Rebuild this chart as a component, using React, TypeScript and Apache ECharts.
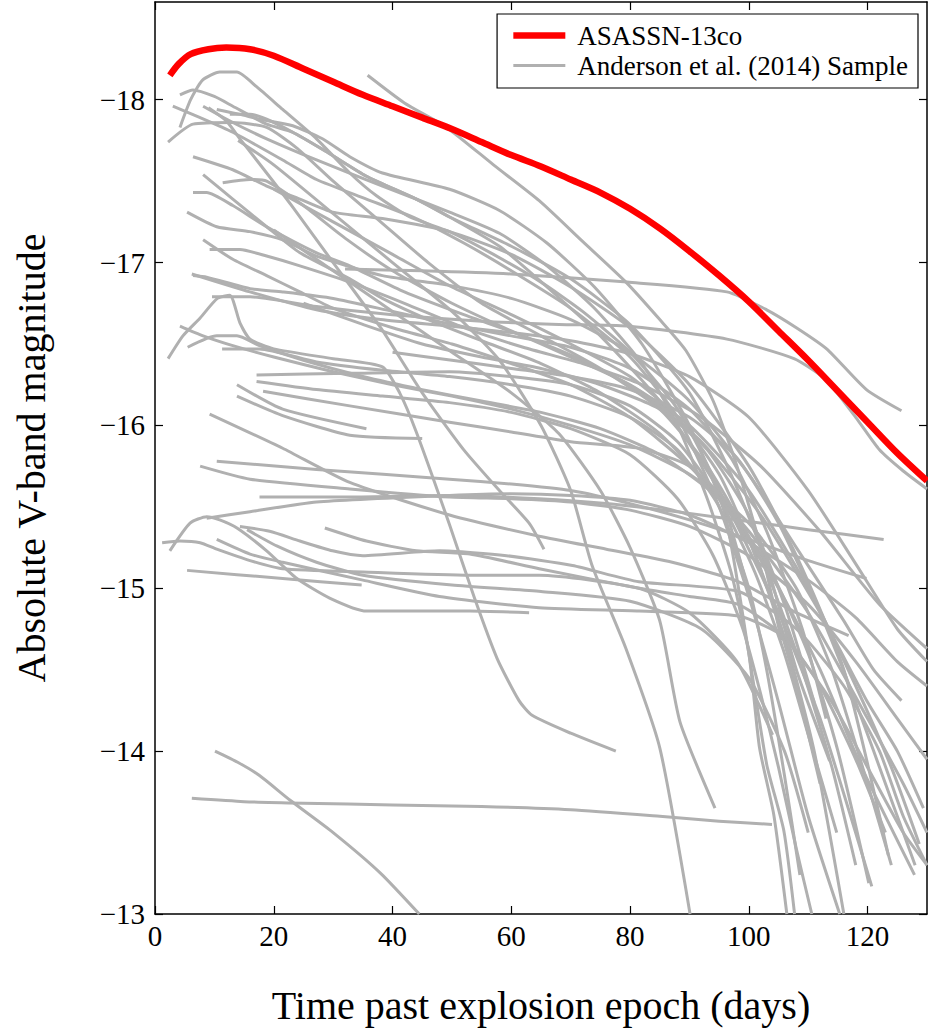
import React, { useEffect, useRef } from 'react';
import * as echarts from 'echarts';

type Pt = [number, number];

const X_TICKS = [0, 20, 40, 60, 80, 100, 120];
const Y_TICKS = [-18, -17, -16, -15, -14, -13];
const RED_NAME = 'ASASSN-13co';
const SAMPLE_NAME = 'Anderson et al. (2014) Sample';

// ASASSN-13co light curve (days, absolute V mag)
const ASASSN_13CO: Pt[] = [[2.5,-18.15],[4,-18.22],[6,-18.28],[9,-18.31],[12,-18.32],[16,-18.31],[20,-18.27],[25,-18.19],[30,-18.11],[35,-18.03],[40,-17.96],[45,-17.89],[50,-17.82],[55,-17.74],[60,-17.66],[65,-17.59],[70,-17.51],[75,-17.43],[80,-17.33],[85,-17.21],[90,-17.07],[95,-16.92],[100,-16.76],[105,-16.58],[110,-16.4],[115,-16.21],[120,-16.02],[125,-15.83],[130,-15.66]];

// Anderson et al. (2014) sample curves
const SN01: Pt[] = [[32,-16.96],[45,-16.95],[60,-16.93],[79.5,-16.88],[96.3,-16.82],[103,-16.71],[108,-16.6],[113.1,-16.47],[119.8,-16.22],[125.7,-16.09]];
const SN02: Pt[] = [[35.8,-18.15],[42,-17.98],[49.1,-17.83],[57,-17.6],[64.7,-17.38],[72,-17.13],[79.3,-16.88],[85,-16.65],[89.4,-16.46],[94,-16.15],[98,-15.75],[102,-15.25],[105.5,-14.68]];
const SN03: Pt[] = [[4.2,-17.83],[6,-18.0],[8,-18.12],[10.9,-18.17],[13.8,-18.17],[17.1,-18.08],[21.5,-17.94],[27.2,-17.76],[32.8,-17.55],[37.3,-17.41],[42.9,-17.28],[49.6,-17.19],[57,-17.05],[65,-16.88],[72,-16.7],[80,-16.45],[88,-16.1],[95,-15.6],[99.3,-15.07]];
const SN04: Pt[] = [[4.2,-18.03],[6.4,-18.06],[10,-18.02],[13.1,-17.96],[18.8,-17.85],[23.2,-17.8],[28.9,-17.68],[35.6,-17.53],[44,-17.39],[49.6,-17.28],[60,-17.1],[70,-16.9],[80,-16.62],[90,-16.2],[97,-15.7],[103,-15.15],[108,-14.5],[113.6,-13.94]];
const SN05: Pt[] = [[3,-17.96],[7.6,-17.89],[13.1,-17.8],[21.5,-17.63],[27.2,-17.51],[35.6,-17.39],[44,-17.27],[52,-17.12],[60,-16.95],[70,-16.72],[80,-16.42],[88,-16.05],[95,-15.5],[100,-14.95],[105,-14.3],[110,-13.6],[115.3,-13.0]];
const SN06: Pt[] = [[2.2,-17.74],[6.4,-17.85],[13.1,-17.86],[18.8,-17.83],[24,-17.7],[30,-17.5],[38,-17.25],[46,-17.0],[55,-16.75],[65,-16.55],[75,-16.35],[85,-16.1],[93,-15.75],[100,-15.3],[106,-14.7],[111,-14.0],[116,-13.0]];
const SN07: Pt[] = [[8.1,-17.96],[13.1,-17.86],[18.8,-17.76],[27.2,-17.63],[38.3,-17.47],[49.6,-17.31],[58,-17.18],[66,-16.98],[74,-16.72],[82,-16.38],[88,-16.0],[93,-15.55],[97,-15.1],[100,-14.6],[101.8,-14.02],[104.2,-13.61],[106.4,-13.0]];
const SN08: Pt[] = [[10.4,-17.94],[14.3,-17.91],[17.6,-17.88],[23.2,-17.84],[28.2,-17.76],[32.8,-17.65],[38.3,-17.55],[49.6,-17.45],[58,-17.32],[66,-17.12],[74,-16.85],[82,-16.5],[90,-16.0],[96,-15.45],[100,-14.6],[103,-13.92],[105.9,-13.51],[107.7,-13.0]];
const SN09: Pt[] = [[12.6,-17.91],[16,-17.91],[18.8,-17.88],[23.2,-17.8],[28.9,-17.68],[35.6,-17.53],[44,-17.39],[49.6,-17.28],[58,-17.1],[66,-16.85],[75,-16.55],[85,-16.15],[95,-15.6],[105,-14.85],[112,-14.2],[120.7,-13.17]];
const SN10: Pt[] = [[6.4,-17.65],[13.1,-17.57],[18.8,-17.47],[24.4,-17.39],[29.9,-17.31],[38.3,-17.27],[49.6,-17.19],[60,-17.05],[70,-16.85],[80,-16.6],[90,-16.25],[100,-15.75],[108,-15.2],[116,-14.5],[123.5,-13.36]];
const SN11: Pt[] = [[8.1,-17.54],[13.1,-17.39],[18.8,-17.22],[24.4,-17.06],[32.8,-16.9],[38.3,-16.78],[46,-16.65],[55,-16.52],[65,-16.38],[75,-16.2],[85,-15.95],[95,-15.55],[105,-15.0],[112,-14.5],[119,-13.9],[127.9,-13.24]];
const SN12: Pt[] = [[11.4,-17.49],[16,-17.51],[18.8,-17.5],[25,-17.35],[32,-17.15],[40,-16.95],[50,-16.75],[60,-16.58],[70,-16.42],[80,-16.25],[90,-16.0],[100,-15.6],[110,-15.0],[118,-14.4],[124,-13.9],[128.7,-13.43]];
const SN13: Pt[] = [[6.4,-17.43],[8.7,-17.43],[13.1,-17.35],[18.8,-17.22],[27.2,-17.06],[32.8,-16.98],[42,-16.82],[52,-16.68],[62,-16.55],[72,-16.4],[82,-16.2],[92,-15.9],[102,-15.45],[112,-14.85],[120,-14.3],[125,-14.0],[129.4,-13.65]];
const SN14: Pt[] = [[5.4,-17.31],[10.4,-17.22],[16,-17.19],[21.5,-17.14],[27.2,-17.04],[38.3,-16.92],[49.6,-16.86],[60,-16.78],[70,-16.65],[80,-16.45],[90,-16.15],[100,-15.7],[108,-15.25],[116,-14.8],[121,-14.5],[125.7,-14.31]];
const SN15: Pt[] = [[8.1,-17.14],[13.1,-17.02],[18.8,-16.92],[24.4,-16.82],[30,-16.72],[40,-16.6],[50,-16.5],[60,-16.38],[70,-16.25],[80,-16.05],[90,-15.75],[100,-15.35],[110,-14.85],[120,-14.2],[126,-13.8],[130,-13.5]];
const SN16: Pt[] = [[9.2,-17.08],[14.3,-17.08],[18.8,-17.04],[24.4,-16.98],[32.8,-16.88],[42,-16.75],[52,-16.6],[62,-16.48],[72,-16.38],[82,-16.25],[92,-16.05],[102,-15.75],[112,-15.35],[122,-14.9],[130,-14.63]];
const SN17: Pt[] = [[6.2,-16.93],[16,-16.82],[27.2,-16.71],[38,-16.65],[49.6,-16.61],[60,-16.57],[70,-16.52],[80,-16.44],[90,-16.3],[100,-16.05],[110,-15.6],[118,-15.15],[125,-14.75],[130,-14.55]];
const SN18: Pt[] = [[6.4,-16.92],[8.7,-16.91],[16,-16.84],[21.5,-16.82],[30,-16.78],[40,-16.7],[50,-16.62],[60,-16.55],[70,-16.48],[80,-16.35],[90,-16.1],[97,-15.8],[103,-15.35],[109,-14.75],[113,-14.2]];
const SN19: Pt[] = [[9.6,-16.79],[16,-16.79],[27.2,-16.73],[40,-16.68],[55,-16.64],[68,-16.62],[79.5,-16.61],[96.3,-16.53],[107.6,-16.41],[113,-16.28],[118,-16.05],[122,-15.85],[126,-15.72],[130,-15.61]];
const SN20: Pt[] = [[2.2,-16.41],[4.7,-16.55],[7.6,-16.66],[10.5,-16.78],[12.6,-16.8],[14.3,-16.63],[16,-16.53],[20,-16.47],[30,-16.41],[38.3,-16.36],[41.2,-16.2],[44,-15.96],[49.6,-15.39],[53.8,-14.94],[57.6,-14.57],[61.3,-14.31],[63.5,-14.22],[70,-14.11],[77.6,-14.0]];
const SN21: Pt[] = [[4.2,-16.61],[8.1,-16.55],[13.1,-16.49],[20,-16.42],[30,-16.33],[40,-16.25],[50,-16.18],[60,-16.1],[70,-16.0],[80,-15.88],[90,-15.7],[100,-15.4],[108,-15.0],[114,-14.5],[120,-13.8],[124,-13.3]];
const SN22: Pt[] = [[5.5,-16.48],[10.4,-16.55],[13.8,-16.55],[17.6,-16.49],[25,-16.4],[35,-16.3],[45,-16.22],[55,-16.15],[65,-16.08],[75,-15.98],[85,-15.82],[95,-15.55],[103,-15.15],[110,-14.6],[115,-14.0],[120.2,-13.19]];
const SN23: Pt[] = [[11.3,-16.47],[17.6,-16.47],[27.2,-16.39],[38,-16.34],[49.6,-16.3],[60,-16.25],[70,-16.18],[80,-16.05],[88,-15.85],[95,-15.5],[100,-15.0],[103,-14.5],[106,-13.85],[108.6,-13.24]];
const SN24: Pt[] = [[17.1,-16.31],[32.8,-16.32],[49.6,-16.33],[60,-16.3],[70,-16.25],[80,-16.12],[88,-15.9],[95,-15.55],[101,-15.1],[106,-14.6],[110,-14.1],[114.8,-13.5]];
const SN25: Pt[] = [[17.1,-16.27],[27.2,-16.22],[38.3,-16.18],[49.6,-16.14],[60,-16.08],[70,-15.98],[80,-15.82],[88,-15.55],[94,-15.2],[99,-14.75],[102,-14.35],[105,-13.9],[108,-13.4],[110.6,-13.0]];
const SN26: Pt[] = [[13.8,-16.25],[21.5,-16.1],[35.6,-15.98]];
const SN27: Pt[] = [[13.8,-16.18],[21.5,-16.06],[32.8,-15.94],[45,-15.92]];
const SN28: Pt[] = [[18.2,-16.21],[32.8,-16.12],[49.6,-16.02],[60,-15.96],[70,-15.9],[81.5,-15.86],[90,-15.75],[97,-15.5],[103,-15.1],[109,-14.5],[114,-13.9],[118,-13.3]];
const SN29: Pt[] = [[9.2,-16.07],[21.5,-15.86],[32.8,-15.65],[49.6,-15.45],[64.7,-15.32],[76,-15.24],[87.1,-15.16],[98.3,-15.04],[108,-14.85],[116.8,-14.71]];
const SN30: Pt[] = [[10.4,-15.78],[27.2,-15.73],[49.6,-15.67],[60,-15.64],[70,-15.6],[80,-15.52],[90,-15.42],[100,-15.3],[110,-15.17],[119.8,-15.06]];
const SN31: Pt[] = [[7.6,-15.75],[16,-15.67],[32.8,-15.61],[49.6,-15.56],[60,-15.55],[70,-15.53],[80,-15.48],[90,-15.38],[100,-15.2],[110,-14.9],[118,-14.55],[125,-14.2],[130,-13.95]];
const SN32: Pt[] = [[17.6,-15.56],[32.8,-15.56],[49.6,-15.57],[64.7,-15.55],[76,-15.52],[90,-15.46],[100,-15.41],[110,-15.36],[122.7,-15.3]];
const SN33: Pt[] = [[8.7,-15.43],[16,-15.47],[27.2,-15.53],[49.6,-15.57],[60,-15.58],[70,-15.57],[80,-15.54],[90,-15.45],[100,-15.28],[110,-15.05],[118,-14.82],[125,-14.55],[130,-14.4]];
const SN34: Pt[] = [[2.5,-15.23],[5.9,-15.4],[8.7,-15.44],[10.9,-15.42],[13.8,-15.37],[18.8,-15.23],[23.9,-15.06],[29.4,-14.94],[35.6,-14.86],[40,-14.86],[53,-14.86],[63,-14.85]];
const SN35: Pt[] = [[1.2,-15.28],[4.2,-15.29],[7.6,-15.28],[10.4,-15.24],[16,-15.17],[21.5,-15.12],[35,-15.1],[53,-15.08],[64.7,-15.08],[81.5,-15.0],[90,-14.85],[98,-14.55],[104,-14.1]];
const SN36: Pt[] = [[14.3,-15.38],[19.3,-15.35],[24.4,-15.29],[29.9,-15.23],[35,-15.2],[47.9,-15.23],[59.2,-15.2],[70.3,-15.14],[81.5,-15.04],[98.3,-14.98],[108,-14.75],[116,-14.4],[122,-14.0],[126,-13.6],[130,-13.3]];
const SN37: Pt[] = [[28.6,-15.37],[35.6,-15.29],[44,-15.23],[53,-15.21],[64.7,-15.12],[81.5,-15.0],[90,-14.95],[98.3,-14.9],[106,-14.7],[114,-14.3],[120,-13.9],[126,-13.5],[130,-13.3]];
const SN38: Pt[] = [[5.4,-15.11],[21.5,-15.06],[34.8,-15.02]];
const SN39: Pt[] = [[10.4,-15.3],[16,-15.21],[21.5,-15.16],[35,-15.05],[47.9,-14.95],[64.7,-14.88],[81.5,-14.86],[98.3,-14.83],[106,-14.7],[112,-14.4],[118,-13.95],[123,-13.5]];
const SN40: Pt[] = [[15.5,-15.36],[20.5,-15.26],[27.2,-15.16],[35,-15.08],[50,-15.02],[65,-14.98],[80,-14.92],[92,-14.75],[100,-14.45],[106,-14.0],[110,-13.5]];
const SN41: Pt[] = [[14,-17.75],[20,-17.6],[30,-17.3],[40,-17.0],[50,-16.7],[58,-16.4],[65,-16.0],[70,-15.6],[73.6,-15.14],[79.3,-14.63],[85,-14.02],[90.1,-13.0]];
const SN42: Pt[] = [[20,-17.2],[30,-16.95],[40,-16.7],[50,-16.45],[60,-16.2],[68,-15.95],[75,-15.6],[80,-15.25],[85,-14.8],[88.4,-14.18],[94.3,-13.65]];
const SN43: Pt[] = [[9,-17.95],[12,-17.87],[14.3,-17.76],[17.1,-17.63],[20.5,-17.47],[23.2,-17.34],[30,-17.0],[38,-16.6],[45,-16.2],[52,-15.85],[58,-15.6],[63,-15.4],[65.5,-15.24]];
const SN44: Pt[] = [[20,-17.45],[30,-17.25],[40,-17.05],[50,-16.85],[60,-16.68],[70,-16.5],[80,-16.3],[88,-16.05],[95,-15.7],[100,-15.3],[104,-14.9],[108,-14.4],[112,-13.8]];
const SN45: Pt[] = [[25,-16.75],[35,-16.62],[45,-16.5],[55,-16.42],[65,-16.35],[75,-16.25],[85,-16.1],[93,-15.85],[100,-15.45],[106,-14.9],[111,-14.3]];
const SN46: Pt[] = [[40,-16.45],[50,-16.4],[60,-16.35],[70,-16.3],[80,-16.22],[90,-16.05],[98,-15.8],[105,-15.4],[112,-14.85],[118,-14.3],[124,-13.7],[128,-13.3]];
const SN47: Pt[] = [[6.2,-13.71],[15,-13.69],[25,-13.68],[40,-13.67],[55,-13.66],[70,-13.64],[85,-13.6],[95,-13.57],[103.9,-13.55]];
const SN48: Pt[] = [[10.1,-14.0],[14,-13.93],[17.6,-13.85],[22.7,-13.7],[30,-13.5],[38,-13.25],[44.5,-13.0]];

const SAMPLE: Pt[][] = [SN01, SN02, SN03, SN04, SN05, SN06, SN07, SN08, SN09, SN10, SN11, SN12, SN13, SN14, SN15, SN16, SN17, SN18, SN19, SN20, SN21, SN22, SN23, SN24, SN25, SN26, SN27, SN28, SN29, SN30, SN31, SN32, SN33, SN34, SN35, SN36, SN37, SN38, SN39, SN40, SN41, SN42, SN43, SN44, SN45, SN46, SN47, SN48];

const FONT = '"Liberation Serif", "Times New Roman", serif';
const minus = (v: number) => (v < 0 ? '\u2212' + Math.abs(v) : String(v));

export default function App() {
  const ref = useRef<HTMLDivElement>(null);
  useEffect(() => {
    if (!ref.current) return;
    const chart = echarts.init(ref.current, undefined, { renderer: 'svg' });
    const axisLine = { show: true, onZero: false, lineStyle: { color: '#000', width: 1.5 } };
    const tickStyle = { color: '#000', width: 1.2 };
    const grayLine = { color: '#b0b0b0', width: 3, cap: 'butt', join: 'round' };
    const series: any[] = SAMPLE.map((d) => ({
      type: 'line', name: SAMPLE_NAME, data: d, symbol: 'none', showSymbol: false,
      smooth: 0.2, lineStyle: grayLine, itemStyle: { color: '#b0b0b0' },
      z: 2, silent: true,
    }));
    series.push({
      type: 'line', name: RED_NAME, data: ASASSN_13CO, symbol: 'none', showSymbol: false,
      smooth: 0.3, lineStyle: { color: '#ff0000', width: 6.5, join: 'round' }, itemStyle: { color: '#ff0000' },
      z: 5, silent: true,
    });
    chart.setOption({
      animation: false,
      backgroundColor: '#fff',
      grid: { left: 155, right: 1, top: 2, bottom: 113 },
      legend: {
        data: [
          { name: RED_NAME, itemStyle: { opacity: 0 }, lineStyle: { width: 6.5, color: '#ff0000' } },
          { name: SAMPLE_NAME, itemStyle: { opacity: 0 }, lineStyle: { width: 3, color: '#b0b0b0' } },
        ],
        orient: 'vertical', right: 10, top: 14,
        padding: [8, 10, 9, 13], itemWidth: 52, itemHeight: 20, itemGap: 3,
        backgroundColor: '#fff', borderColor: '#000', borderWidth: 1.2, borderRadius: 0,
        textStyle: { fontFamily: FONT, fontSize: 27, lineHeight: 20, color: '#000', padding: [0, 0, 0, 7] },
        selectedMode: false, z: 10,
      },
      xAxis: [
        {
          type: 'value', min: 0, max: 130, position: 'bottom', axisLine,
          axisTick: { show: true, inside: true, length: 8, customValues: X_TICKS, lineStyle: tickStyle },
          axisLabel: { customValues: X_TICKS, fontFamily: FONT, fontSize: 29, color: '#000', margin: 7 },
          splitLine: { show: false },
          name: 'Time past explosion epoch (days)', nameLocation: 'middle', nameGap: 71,
          nameTextStyle: { fontFamily: FONT, fontSize: 40, color: '#000' },
        },
        {
          type: 'value', min: 0, max: 130, position: 'top', axisLine,
          axisTick: { show: true, inside: true, length: 8, customValues: X_TICKS, lineStyle: tickStyle },
          axisLabel: { show: false }, splitLine: { show: false },
        },
      ],
      yAxis: [
        {
          type: 'value', min: -18.6, max: -13, inverse: true, position: 'left', axisLine,
          axisTick: { show: true, inside: true, length: 8, customValues: Y_TICKS, lineStyle: tickStyle },
          axisLabel: { customValues: Y_TICKS, formatter: minus, fontFamily: FONT, fontSize: 29, color: '#000', margin: 10 },
          splitLine: { show: false },
          name: 'Absolute V-band magnitude', nameLocation: 'middle', nameGap: 104, nameRotate: 90,
          nameTextStyle: { fontFamily: FONT, fontSize: 40, color: '#000' },
        },
        {
          type: 'value', min: -18.6, max: -13, inverse: true, position: 'right', axisLine,
          axisTick: { show: true, inside: true, length: 8, customValues: Y_TICKS, lineStyle: tickStyle },
          axisLabel: { show: false }, splitLine: { show: false },
        },
      ],
      series,
    });
    return () => chart.dispose();
  }, []);
  return <div ref={ref} style={{ position: 'absolute', left: 0, top: 0, width: 928, height: 1030 }} />;
}
